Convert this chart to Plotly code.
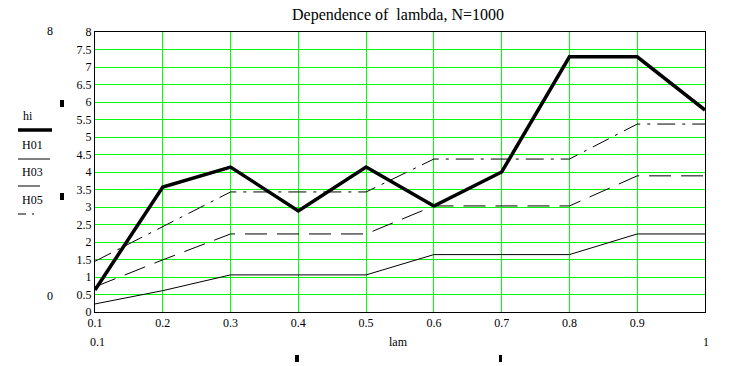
import math
import plotly.graph_objects as go

lam = [0.1, 0.2, 0.3, 0.4, 0.5, 0.6, 0.7, 0.8, 0.9, 1.0]
hi = [0.63, 3.57, 4.14, 2.89, 4.14, 3.03, 4.0, 7.29, 7.29, 5.77]
H01 = [0.23, 0.61, 1.06, 1.06, 1.06, 1.64, 1.64, 1.64, 2.23, 2.23]
H03 = [0.72, 1.49, 2.23, 2.23, 2.23, 3.03, 3.03, 3.03, 3.89, 3.89]
H05 = [1.45, 2.44, 3.43, 3.43, 3.43, 4.37, 4.37, 4.37, 5.37, 5.37]
x_ticks = [0.1, 0.2, 0.3, 0.4, 0.5, 0.6, 0.7, 0.8, 0.9]
y_ticks = [0, 0.5, 1, 1.5, 2, 2.5, 3, 3.5, 4, 4.5, 5, 5.5, 6, 6.5, 7, 7.5, 8]

W, H = 731, 366
L, R, T, B = 95, 705, 32, 312
FONT = "Liberation Serif"

def px(x):
    return (x - L) / (R - L)

def py(y):
    return (B - y) / (B - T)

fig = go.Figure()
grid = "#00ff00"
# vertical gridlines as 1px filled strips aligned to whole pixels
for xv in x_ticks[1:]:
    p = math.floor(L + (xv - 0.1) / 0.9 * (R - L))
    fig.add_shape(type="rect", xref="paper", yref="paper", x0=px(p), x1=px(p + 1), y0=0, y1=1,
                  fillcolor=grid, line=dict(width=0), layer="below")

fig.add_trace(go.Scatter(x=lam, y=H01, mode="lines", line=dict(color="black", width=1)))
fig.add_trace(go.Scatter(x=lam, y=H03, mode="lines", line=dict(color="black", width=1, dash="22px,10px")))
fig.add_trace(go.Scatter(x=lam, y=H05, mode="lines", line=dict(color="black", width=1, dash="18px,7px,3px,7px")))
fig.add_trace(go.Scatter(x=lam, y=hi, mode="lines", line=dict(color="black", width=3.5)))

fig.update_layout(
    width=W, height=H,
    margin=dict(l=L, r=W - R, t=T, b=H - B),
    paper_bgcolor="white", plot_bgcolor="white",
    showlegend=False,
    font=dict(family=FONT, size=12, color="black"),
    title=dict(text="Dependence of  lambda, N=1000", x=398 / W, xanchor="center",
               y=1 - 14 / H, yanchor="middle", font=dict(family=FONT, size=16, color="black")),
    xaxis=dict(range=[0.1, 1.0], tickvals=x_ticks, ticktext=[f"{v:g}" for v in x_ticks],
               showgrid=False, zeroline=False,
               showline=True, linecolor="black", linewidth=1, mirror=True,
               ticks="", tickfont=dict(family=FONT, size=12)),
    yaxis=dict(range=[0, 8], tickvals=y_ticks, ticktext=[f"{v:g}" for v in y_ticks],
               showgrid=True, gridcolor=grid, gridwidth=1, zeroline=False,
               showline=True, linecolor="black", linewidth=1, mirror=True,
               ticks="", tickfont=dict(family=FONT, size=12)),
)

def note(text, x, y, xanchor="center", size=12):
    fig.add_annotation(text=text, x=px(x), y=py(y), xref="paper", yref="paper",
                       xanchor=xanchor, yanchor="middle", showarrow=False,
                       font=dict(family=FONT, size=size, color="black"))

note("8", 50, 31)
note("0", 50, 296)
note("hi", 21, 116, xanchor="left")
note("H01", 20, 145, xanchor="left")
note("H03", 20, 172, xanchor="left")
note("H05", 20, 200, xanchor="left")
note("0.1", 97, 342)
note("lam", 398, 342)
note("1", 706, 342)

def hline(x0, x1, y, width, dash="solid"):
    fig.add_shape(type="line", xref="paper", yref="paper",
                  x0=px(x0), x1=px(x1), y0=py(y), y1=py(y),
                  line=dict(color="black", width=width, dash=dash))

hline(18, 52, 130, 3.5)
hline(18, 50, 159, 1)
hline(18, 40, 186, 1)
hline(18, 40, 214, 1, dash="8px,6px,2px,6px")

def rect(x0, x1, y0, y1):
    fig.add_shape(type="rect", xref="paper", yref="paper",
                  x0=px(x0), x1=px(x1), y0=py(y0), y1=py(y1),
                  fillcolor="black", line=dict(width=0))

rect(60, 64, 100, 107)
rect(60, 64, 193, 200)
rect(295, 299, 355, 362)
rect(499, 502, 355, 362)

fig.write_html("out.html", config={"displayModeBar": False},
               post_script="document.body.style.margin='0';document.body.style.overflow='hidden';")
